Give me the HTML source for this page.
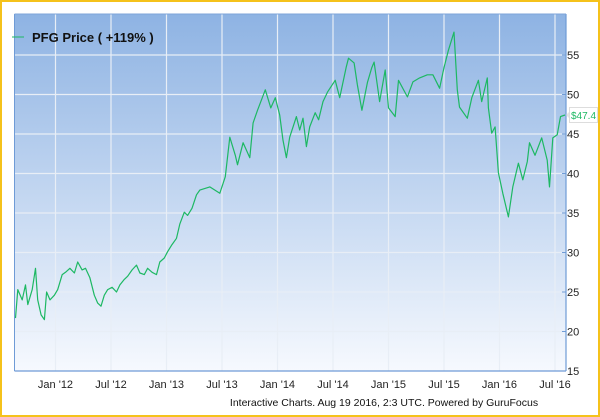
<!DOCTYPE html>
<html><head><meta charset="utf-8"><style>
html,body{margin:0;padding:0;background:#fff;}
body{width:600px;height:417px;overflow:hidden;font-family:"Liberation Sans",sans-serif;}
#frame{position:absolute;left:0;top:0;width:596px;height:413px;border:2px solid #f5c21b;}
svg{position:absolute;left:0;top:0;}
</style></head><body>
<div id="frame"></div>
<svg id="chart" width="600" height="417">
<defs><linearGradient id="bg" x1="0" y1="0" x2="0" y2="1"><stop offset="0" stop-color="#8eb3e3"/><stop offset="1" stop-color="#f6f9fe"/></linearGradient></defs>
<rect x="14.5" y="14" width="551.5" height="357" fill="url(#bg)"/>
<g id="grid"></g><g id="axes"></g>
<path id="line" fill="none" stroke="#1db863" stroke-width="1.2" stroke-linejoin="round"/>
<g id="legend">
<line x1="12" y1="37" x2="24" y2="37" stroke="#1db863" stroke-width="1"/>
<text x="32" y="42" font-size="13" font-weight="bold" fill="#111">PFG Price ( +119% )</text>
</g>
<g id="lastlabel">
<polygon points="566,115 570,111 570,119" fill="#e4e4e4"/>
<rect x="569.5" y="107.5" width="28" height="15" fill="#fff" stroke="#ddd"/>
<text x="571" y="119" font-size="10" fill="#1db863">$47.4</text>
</g>
<text x="384" y="406" font-size="10.5" fill="#111" text-anchor="middle">Interactive Charts. Aug 19 2016, 2:3 UTC. Powered by GuruFocus</text>
</svg>
<script>
const yTicks=[15,20,25,30,35,40,45,50,55];
const xTickYears=[2012,2012.5,2013,2013.5,2014,2014.5,2015,2015.5,2016,2016.5];
const xTickLabels=["Jan '12","Jul '12","Jan '13","Jul '13","Jan '14","Jul '14","Jan '15","Jul '15","Jan '16","Jul '16"];
const dates=[2011.64,2011.66,2011.70,2011.73,2011.75,2011.79,2011.82,2011.84,2011.87,2011.90,2011.92,2011.95,2011.99,2012.02,2012.06,2012.09,2012.13,2012.17,2012.20,2012.24,2012.27,2012.31,2012.35,2012.38,2012.41,2012.44,2012.47,2012.51,2012.55,2012.58,2012.62,2012.65,2012.69,2012.73,2012.76,2012.80,2012.83,2012.87,2012.91,2012.94,2012.98,2013.01,2013.05,2013.09,2013.12,2013.16,2013.19,2013.23,2013.27,2013.30,2013.39,2013.48,2013.53,2013.57,2013.62,2013.64,2013.69,2013.75,2013.78,2013.82,2013.89,2013.94,2013.98,2014.02,2014.05,2014.08,2014.11,2014.17,2014.20,2014.23,2014.26,2014.29,2014.34,2014.37,2014.41,2014.45,2014.52,2014.56,2014.62,2014.64,2014.69,2014.72,2014.76,2014.81,2014.85,2014.87,2014.92,2014.97,2015.00,2015.06,2015.09,2015.17,2015.22,2015.28,2015.35,2015.40,2015.46,2015.50,2015.54,2015.59,2015.62,2015.64,2015.71,2015.75,2015.81,2015.84,2015.89,2015.90,2015.93,2015.96,2015.99,2016.03,2016.08,2016.12,2016.17,2016.21,2016.25,2016.27,2016.32,2016.38,2016.43,2016.45,2016.48,2016.52,2016.55,2016.59];
const prices=[21.7,25.3,24.0,25.9,23.4,25.3,28.0,24.0,22.1,21.5,25.0,24.0,24.6,25.3,27.2,27.5,28.0,27.4,28.8,27.8,28.0,26.8,24.6,23.6,23.2,24.6,25.3,25.6,25.0,25.9,26.6,27.0,27.8,28.4,27.4,27.2,28.0,27.5,27.2,28.8,29.3,30.1,31.0,31.8,33.6,35.1,34.7,35.6,37.3,37.9,38.3,37.5,39.6,44.6,42.3,41.1,43.9,42.0,46.4,48.0,50.6,48.3,49.6,47.4,44.2,42.0,44.6,47.2,45.5,47.0,43.4,45.9,47.7,46.8,49.1,50.3,51.8,49.6,53.5,54.6,54.0,51.2,48.0,51.5,53.4,54.1,49.1,53.1,48.3,47.2,51.8,49.7,51.6,52.1,52.5,52.5,50.8,53.4,55.6,57.9,50.6,48.4,47.0,49.6,51.8,49.1,52.1,48.3,45.1,45.9,40.1,37.5,34.5,38.3,41.3,39.2,41.5,43.9,42.3,44.5,41.7,38.3,44.5,44.9,47.2,47.4];
const X=t=>55.5+(t-2012)*111;
const Y=v=>371-(v-15)*7.9;
const NS="http://www.w3.org/2000/svg";
const grid=document.getElementById('grid'),axes=document.getElementById('axes');
function mk(tag,attrs,parent){const e=document.createElementNS(NS,tag);for(const k in attrs)e.setAttribute(k,attrs[k]);parent.appendChild(e);return e;}
yTicks.forEach(v=>{
  if(v>15){const l=mk('line',{x1:14.5,x2:566,y1:Y(v),y2:Y(v),stroke:'#e8eef6','stroke-width':1.2},grid);
  
  }
  const tk=mk('line',{x1:562,x2:566,y1:Y(v),y2:Y(v),stroke:'#6f9bd6'},axes);
  
  
  const t=mk('text',{x:567,y:Y(v)+4,'font-size':11,fill:'#222'},axes);t.textContent=v;
  
  
});
xTickYears.forEach((yr,i)=>{
  const l=mk('line',{x1:X(yr),x2:X(yr),y1:14,y2:371,stroke:'#e8eef6','stroke-width':1.2},grid);
  
  
  const t=mk('text',{x:X(yr),y:388,'font-size':11,fill:'#222','text-anchor':'middle'},axes);t.textContent=xTickLabels[i];
  
  
});
const ax=mk('line',{x1:566,x2:566,y1:14,y2:371,stroke:'#6f9bd6','stroke-width':1.2},axes);


const bx=mk('line',{x1:14.5,x2:566,y1:371,y2:371,stroke:'#6f9bd6','stroke-width':1.2},axes);


const lx=mk('line',{x1:14.5,x2:14.5,y1:14,y2:371,stroke:'#6f9bd6','stroke-width':1},axes);


const tx=mk('line',{x1:14.5,x2:566,y1:14,y2:14,stroke:'#7fa6da','stroke-width':1},axes);


document.getElementById('line').setAttribute('d',dates.map((d,i)=>(i?'L':'M')+X(d).toFixed(1)+','+Y(prices[i]).toFixed(1)).join(''));
</script>
</body></html>
